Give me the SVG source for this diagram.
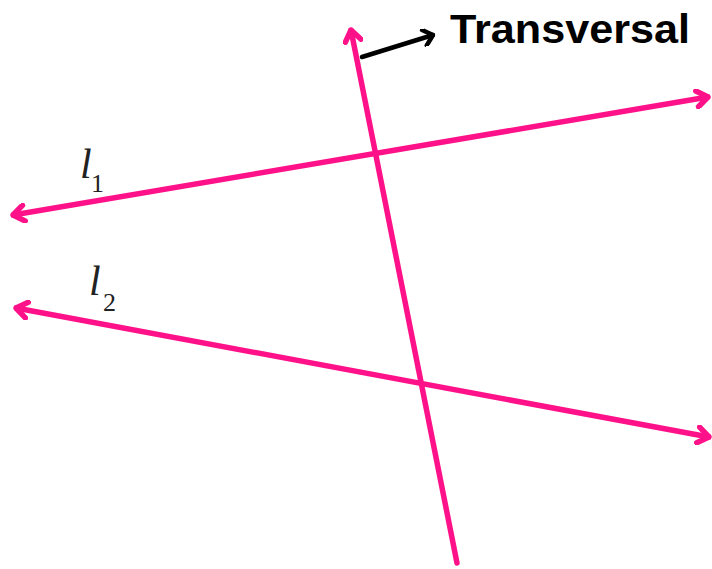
<svg xmlns="http://www.w3.org/2000/svg" width="712" height="569" viewBox="0 0 712 569">
<style>
.ln{stroke:#FF1289;stroke-width:5.5;fill:none;stroke-linecap:round}
.lbl{font-family:"Liberation Serif",serif;fill:#222}
</style>
<defs>
<marker id="pk" viewBox="-14 -10 16 20" markerWidth="16" markerHeight="20" refX="0" refY="0" orient="auto-start-reverse" markerUnits="userSpaceOnUse">
<path d="M-11,-8 L0,0 L-11,8" fill="none" stroke="#FF1289" stroke-width="5.5" stroke-linecap="round" stroke-linejoin="round"/>
</marker>
<marker id="bk" viewBox="-12 -9 14 18" markerWidth="14" markerHeight="18" refX="0" refY="0" orient="auto" markerUnits="userSpaceOnUse">
<path d="M-9,-8 L0,0 L-9,8" fill="none" stroke="#000" stroke-width="4.5" stroke-linecap="round" stroke-linejoin="round"/>
</marker>
</defs>
<g id="connectors">
<line id="l1" class="ln" x1="13" y1="215" x2="708" y2="97" marker-start="url(#pk)" marker-end="url(#pk)"/>
<line id="l2" class="ln" x1="16" y1="308" x2="709" y2="437" marker-start="url(#pk)" marker-end="url(#pk)"/>
<line id="transversal" class="ln" x1="457" y1="563" x2="351" y2="30" marker-end="url(#pk)"/>
<line id="pointer" x1="362" y1="57" x2="433" y2="35" stroke="#000" stroke-width="4.5" stroke-linecap="round" marker-end="url(#bk)"/>
</g>
<g id="label-transversal">
<text x="450" y="43" font-family="Liberation Sans, Arial, sans-serif" font-weight="bold" font-size="41" textLength="240" lengthAdjust="spacingAndGlyphs" fill="#000">Transversal</text>
</g>
<g id="label-l1">
<text class="lbl" x="80" y="178" font-size="42" font-style="italic">l</text>
<text class="lbl" x="91" y="192" font-size="26">1</text>
</g>
<g id="label-l2">
<text class="lbl" x="89" y="295" font-size="42" font-style="italic">l</text>
<text class="lbl" x="103" y="311" font-size="26">2</text>
</g>
</svg>
